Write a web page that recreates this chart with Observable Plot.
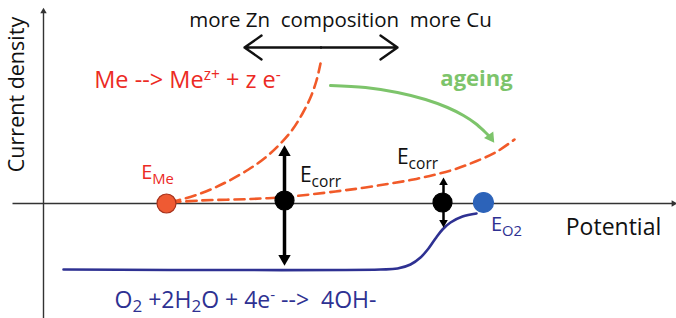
<!DOCTYPE html>
<html>
<head>
<meta charset="utf-8">
<script src="https://cdn.jsdelivr.net/npm/d3@7"></script>
<script src="https://cdn.jsdelivr.net/npm/@observablehq/plot@0.6"></script>
<style>
  html, body { margin: 0; padding: 0; background: #fff; }
  #chart { width: 676px; height: 318px; }
</style>
</head>
<body>
<div id="chart"></div>
<script>
// Schematic Evans-type diagram, drawing units (x = potential, y = current, y grows downward)
const anodicFresh = [[170,202],[200,193],[225,182],[248,169],[265,157],[280,143],[292,129],[302,113],[310,97],[316,80],[320,63]];
const anodicAged  = [[170,202],[200,200],[250,198.5],[285,196.5],[335,191],[365,187],[390,183],[413,179],[435,174],[455,168.5],[475,161],[495,152],[514,139]];
const cathodic    = [[63,269],[380,269],[397,268],[410,264],[420,257],[428,248],[435,238],[442,229],[450,222],[462,216],[476,213]];
const ageing      = [[330,85],[365,87],[397,92],[425,99],[447,107],[463,115],[475,123],[484,131],[489,136]];

const potentials = [
  {name: "E_Me",     x: 166, y: 203, fill: "#ef5a33", stroke: "#a8321c", r: 9.5},
  {name: "Ecorr1",   x: 284, y: 200, fill: "#000",    stroke: "#000",    r: 9.5},
  {name: "Ecorr2",   x: 442, y: 202, fill: "#000",    stroke: "#000",    r: 9.5},
  {name: "E_O2",     x: 483, y: 202, fill: "#2c63b9", stroke: "#2c63b9", r: 10}
];

// Double-headed shifts (Ecorr currents) and composition arrow
const shifts = [
  {x: 284, y1: 152, y2: 258, r: 4.6, w: 3.5},
  {x: 443, y1: 182, y2: 222, r: 3.2, w: 2.5}
];
const composition = {x1: 244, x2: 397, y: 47};

const axisX = {x1: 12, x2: 676, y: 203};
const axisY = {x: 43, y1: 318, y2: 8};

const labels = [
  {text: "more Zn\u00a0\u00a0composition\u00a0\u00a0more Cu", x: 340, y: 20, size: 20.5, fill: "#111", weight: "normal", rotate: 0, sub: 0.24},
  {text: "Me --> Me^{z+} + z e^{-}", x: 187, y: 80, size: 23.5, fill: "#ec2a24", weight: "normal", rotate: 0, sub: 0.24},
  {text: "ageing", x: 476, y: 78, size: 22, fill: "#7dc46b", weight: "bold", rotate: 0, sub: 0.24},
  {text: "E_{Me}", x: 157, y: 172, size: 20, fill: "#ec2a24", weight: "normal", rotate: 0, sub: 0.24},
  {text: "E_{corr}", x: 320, y: 175, size: 21, fill: "#111", weight: "normal", rotate: 0, sub: 0.24},
  {text: "E_{corr}", x: 417, y: 157, size: 21, fill: "#111", weight: "normal", rotate: 0, sub: 0.24},
  {text: "E_{O2}", x: 506, y: 224, size: 20, fill: "#2e3192", weight: "normal", rotate: 0, sub: 0.24},
  {text: "Potential", x: 613, y: 227, size: 23, fill: "#111", weight: "normal", rotate: 0, sub: 0.24},
  {text: "Current density", x: 17, y: 94, size: 21.5, fill: "#111", weight: "normal", rotate: -90, sub: 0.24},
  {text: "O_{2} +2H_{2}O + 4e^{-} -->\u00a0\u00a04OH-", x: 245, y: 300, size: 23, fill: "#2e3192", weight: "normal", rotate: 0, sub: 0.19}
];

const xy = {x: d => d[0], y: d => d[1]};

const plot = Plot.plot({
  width: 676, height: 318,
  margin: 0,
  x: {domain: [0, 676], range: [0, 676], axis: null},
  y: {domain: [0, 318], range: [0, 318], axis: null},
  r: {type: "identity"},
  style: {fontFamily: "'Open Sans', Lato, sans-serif", background: "#fff"},
  marks: [
    // axes
    Plot.link([axisX], {x1: "x1", x2: d => d.x2 - 4, y1: "y", y2: "y", stroke: "#333", strokeWidth: 1.4}),
    Plot.link([axisY], {x1: "x", x2: "x", y1: "y1", y2: d => d.y2 + 4, stroke: "#333", strokeWidth: 1.4}),
    Plot.dot([axisX], {x: d => d.x2 - 3, y: "y", symbol: "triangle", rotate: 90, r: 2.4, fill: "#333"}),
    Plot.dot([axisY], {x: "x", y: d => d.y2 + 3, symbol: "triangle", rotate: 0, r: 2.4, fill: "#333"}),
    // composition double arrow
    Plot.arrow([composition, composition], {
      x1: (d, i) => (d.x1 + d.x2) / 2, y1: "y",
      x2: (d, i) => i === 0 ? d.x1 : d.x2, y2: "y",
      stroke: "#111", strokeWidth: 2.4, headLength: 13, headAngle: 70
    }),
    // curves
    Plot.line(cathodic, {...xy, stroke: "#2e3192", strokeWidth: 2.6, curve: "catmull-rom"}),
    Plot.line(anodicFresh, {...xy, stroke: "#f15a29", strokeWidth: 2.6, strokeDasharray: "10,6", curve: "catmull-rom"}),
    Plot.line(anodicAged, {...xy, stroke: "#f15a29", strokeWidth: 2.6, strokeDasharray: "10,6", curve: "catmull-rom"}),
    Plot.line(ageing, {...xy, stroke: "#7dc46b", strokeWidth: 3, curve: "catmull-rom"}),
    Plot.dot([ageing[ageing.length - 1]], {x: d => d[0] + 1, y: d => d[1] + 1, symbol: "triangle", rotate: 145, r: 4.2, fill: "#7dc46b"}),
    // potential dots
    Plot.dot(potentials, {x: "x", y: "y", r: "r", fill: "fill", stroke: "stroke", strokeWidth: 1.2}),
    // current shift arrows
    Plot.link(shifts, {x1: "x", x2: "x", y1: "y1", y2: "y2", stroke: "#000", strokeWidth: "w"}),
    Plot.dot(shifts, {x: "x", y: "y1", symbol: "triangle", rotate: 0, r: "r", fill: "#000"}),
    Plot.dot(shifts, {x: "x", y: "y2", symbol: "triangle", rotate: 180, r: "r", fill: "#000"}),
    // labels
    ...labels.map(l => Plot.text([l], {x: "x", y: "y", text: "text", fontSize: l.size, fill: l.fill, fontWeight: l.weight, rotate: l.rotate, textAnchor: "middle", className: "lbl-sub-" + Math.round(l.sub * 100)}))
  ]
});

document.getElementById("chart").appendChild(plot);

// rich text: _{sub} and ^{sup}
function richify(svg) {
  svg.querySelectorAll("text").forEach(t => {
    const s = t.textContent;
    if (!/[_^]\{/.test(s)) return;
    const fs = parseFloat(getComputedStyle(t).fontSize) || 16;
    const g = t.closest("g[class*='lbl-sub-']");
    const subK = g ? +(/lbl-sub-(\d+)/.exec(g.getAttribute("class"))[1]) / 100 : 0.24;
    t.textContent = "";
    const re = /([_^])\{([^}]*)\}/g;
    let last = 0, m, shift = 0;
    const add = (str, kind) => {
      const ts = document.createElementNS("http://www.w3.org/2000/svg", "tspan");
      const target = kind === "_" ? subK * fs : kind === "^" ? -0.36 * fs : 0;
      const dy = target - shift; shift = target;
      if (dy) ts.setAttribute("dy", dy);
      if (kind) ts.setAttribute("font-size", (kind === "_" ? 0.74 : 0.66) * fs);
      ts.textContent = str;
      t.appendChild(ts);
    };
    while ((m = re.exec(s))) {
      if (m.index > last) add(s.slice(last, m.index), null);
      add(m[2], m[1]);
      last = re.lastIndex;
    }
    if (last < s.length) add(s.slice(last), null);
  });
}
richify(plot);
</script>
</body>
</html>
